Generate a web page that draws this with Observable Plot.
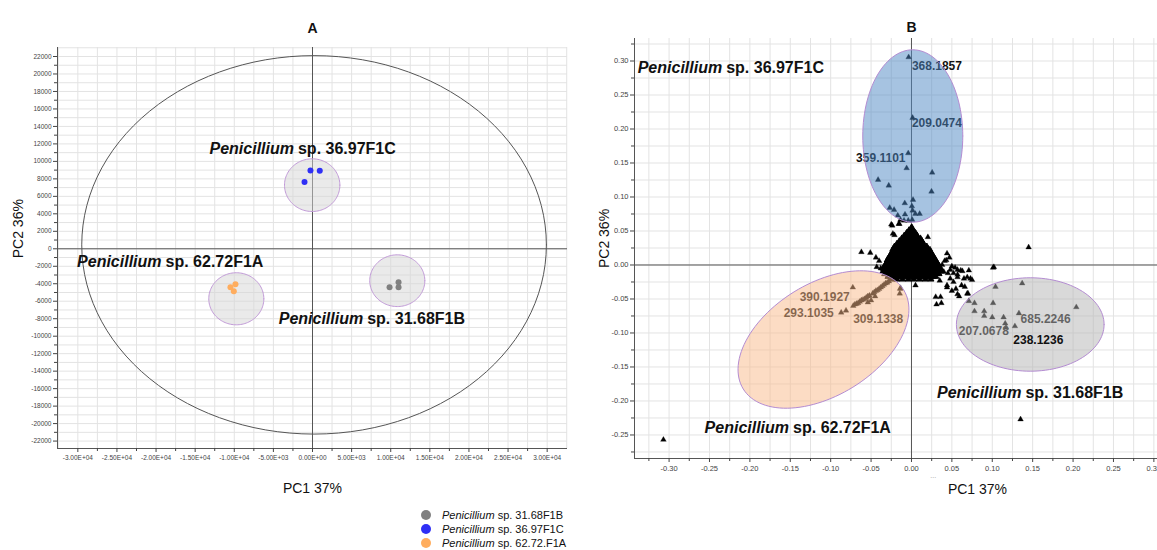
<!DOCTYPE html>
<html><head><meta charset="utf-8">
<script src="https://cdn.jsdelivr.net/npm/d3@7"></script>
<script src="https://cdn.jsdelivr.net/npm/@observablehq/plot@0.6"></script>
<style>
body{margin:0;background:#fff;font-family:"Liberation Sans",Arial,sans-serif;}
#wrap{position:relative;width:1157px;height:550px;overflow:hidden;background:#fff;}
#pa{position:absolute;left:0;top:0;width:590px;}
#pb{position:absolute;left:590px;top:0;width:580px;}
#pa svg,#pb svg{max-width:none !important;}
#legend{position:absolute;left:421px;top:508px;font-size:11px;color:#111;line-height:14px;}
#legend .row{display:flex;align-items:center;height:14px;}
#legend .sw{width:10px;height:10px;border-radius:50%;margin-right:11px;}
</style></head>
<body>
<div id="wrap"><div id="pa"></div><div id="pb"></div><div id="legend"></div></div>
<script>
// ---------- Panel A data (scores) ----------
const groups = ["31.68F1B", "36.97F1C", "62.72F1A"];
const groupColors = ["#808080", "#2f2ff5", "#ffad5e"];
const legendLabels = ["sp. 31.68F1B", "sp. 36.97F1C", "sp. 62.72.F1A"];
const scoreGroup = ["31.68F1B","31.68F1B","31.68F1B","36.97F1C","36.97F1C","36.97F1C","62.72F1A","62.72F1A","62.72F1A"];
const scoreX = [9850, 11000, 11000, -260, 930, -1020, -10490, -9850, -10060];
const scoreY = [-4390, -3820, -4390, 8960, 8920, 7630, -4390, -4050, -4850];

const aXTicks = [-30000,-25000,-20000,-15000,-10000,-5000,0,5000,10000,15000,20000,25000,30000];
const aXLabels = ["-3.00E+04","-2.50E+04","-2.00E+04","-1.50E+04","-1.00E+04","-5.00E+03","0.00E+00","5.00E+03","1.00E+04","1.50E+04","2.00E+04","2.50E+04","3.00E+04"];
const aYTicks = [-22000,-20000,-18000,-16000,-14000,-12000,-10000,-8000,-6000,-4000,-2000,0,2000,4000,6000,8000,10000,12000,14000,16000,18000,20000,22000];

// ellipses A: centre + semi-axes (data units)
const ellAId = ["big", "g31", "g36", "g62"];
const ellACx = [200, 10840, -40, -9740];
const ellACy = [450, -3650, 7280, -5720];
const ellARx = [29700, 3520, 3540, 3520];
const ellARy = [21650, 2960, 3015, 2980];

// group labels A (junction point between italic genus and the rest)
const labAx = [-2370, -19300, 6480];
const labAy = [11440, -1530, -8010];
const labAcode = ["sp. 36.97F1C", "sp. 62.72F1A", "sp. 31.68F1B"];

// ---------- Panel B data (loadings) ----------
const bXTicks = [-0.30,-0.25,-0.20,-0.15,-0.10,-0.05,0,0.05,0.10,0.15,0.20,0.25,0.30];
const bXLabels = ["-0.30","-0.25","-0.20","-0.15","-0.10","-0.05","0.00","0.05","0.10","0.15","0.20","0.25","0.30"];
const bYTicks = [-0.25,-0.20,-0.15,-0.10,-0.05,0,0.05,0.10,0.15,0.20,0.25,0.30];
const bYLabels = ["-0.25","-0.20","-0.15","-0.10","-0.05","0.00","0.05","0.10","0.15","0.20","0.25","0.30"];

const bluePts = [[-0.0035,0.3056],[0.0014,0.2165],[-0.004,0.1644],[-0.006,0.1424],[-0.0413,0.1253],[-0.0281,0.1169],[0.0256,0.136],[0.0248,0.108],[0.0019,0.0959],[-0.0083,0.0909],[-0.0269,0.0841],[-0.0215,0.0812],[-0.017,0.0728],[-0.008,0.0743],[0.0005,0.0865],[0.0014,0.0801],[0.0048,0.0753],[0.0101,0.0753],[-0.0136,0.0665],[-0.0092,0.0654],[-0.004,0.0654],[0.0009,0.0665],[-0.0238,0.058],[-0.015,0.0605]];
const orangePts = [[-0.0726,-0.033],[-0.087,-0.070],[-0.081,-0.067],[-0.0145,-0.042],[-0.0136,-0.034],[-0.054,-0.055],[-0.050,-0.052],[-0.045,-0.046],[-0.072,-0.060],[-0.070,-0.058],[-0.068,-0.057],[-0.066,-0.056],[-0.064,-0.054],[-0.062,-0.052],[-0.060,-0.051],[-0.058,-0.050],[-0.056,-0.048],[-0.054,-0.046],[-0.052,-0.045],[-0.048,-0.042],[-0.046,-0.040],[-0.044,-0.038],[-0.042,-0.037],[-0.040,-0.035],[-0.038,-0.033],[-0.036,-0.031],[-0.034,-0.029],[-0.032,-0.027],[-0.030,-0.026],[-0.028,-0.024],[-0.025,-0.021],[-0.022,-0.018]];
const grayPts = [[0.070,-0.042],[0.078,-0.056],[0.071,-0.053],[0.078,-0.068],[0.090,-0.068],[0.090,-0.075],[0.101,-0.056],[0.104,-0.032],[0.101,-0.004],[0.100,-0.077],[0.114,-0.077],[0.116,-0.086],[0.117,-0.092],[0.128,-0.090],[0.133,-0.071],[0.137,-0.027],[0.204,-0.062]];
const scatterPts = [[0.135,-0.227],[-0.307,-0.257],[0.145,0.026],[0.102,-0.003],
 [0.044,0.017],[0.043,0.007],[0.050,-0.002],[0.054,-0.004],[0.061,-0.008],[0.071,-0.008],[0.069,-0.018],[0.075,-0.022],[0.057,-0.018],[0.052,-0.025],[0.044,-0.033],[0.050,-0.038],[0.057,-0.043],[0.059,-0.046],[0.069,-0.042],[0.030,-0.047],[0.037,-0.056],[0.031,-0.058],
 [0.013,0.035],[0.023,0.023],[0.047,0.011],[0.041,0.006],[0.048,-0.007],[0.057,-0.007],[0.063,-0.009],[0.073,-0.020],[0.065,-0.020],[0.057,-0.014],[0.048,-0.020],[0.044,-0.030],[0.036,-0.047],[0.035,-0.023],[0.028,-0.015],[0.040,-0.010],[0.038,0.000],[0.045,-0.012],[0.052,-0.012],[0.062,-0.030],[0.055,-0.035],[0.066,-0.032],
 [-0.062,0.019],[-0.051,0.018],[-0.044,0.011],[-0.043,-0.003],[-0.023,0.046],[-0.040,0.006],[-0.038,-0.005],[0.005,-0.030],[-0.014,-0.035],
 [-0.021,0.044],[0.0203,0.041],[0.0136,0.0335],[-0.025,0.0596],[-0.0157,0.0605],[0.0008,0.0556]];
// dense central cluster, row by row: [y, [x...]]
const blobRows = [
 [0.055,[0.000]],
 [0.051,[-0.003,0.002]],
 [0.047,[-0.006,-0.002,0.002,0.005]],
 [0.043,[-0.009,-0.005,-0.001,0.003,0.007]],
 [0.039,[-0.012,-0.008,-0.004,0.000,0.004,0.008,0.011]],
 [0.035,[-0.015,-0.011,-0.007,-0.003,0.001,0.005,0.009,0.013]],
 [0.031,[-0.018,-0.014,-0.010,-0.006,-0.002,0.002,0.006,0.010,0.015]],
 [0.027,[-0.021,-0.017,-0.013,-0.009,-0.005,-0.001,0.003,0.007,0.011,0.015,0.019]],
 [0.023,[-0.023,-0.019,-0.015,-0.011,-0.007,-0.003,0.001,0.005,0.009,0.013,0.017,0.021]],
 [0.019,[-0.024,-0.020,-0.016,-0.012,-0.008,-0.004,0.000,0.004,0.008,0.012,0.016,0.020,0.024]],
 [0.015,[-0.026,-0.022,-0.018,-0.014,-0.010,-0.006,-0.002,0.002,0.006,0.010,0.014,0.018,0.022,0.026]],
 [0.011,[-0.028,-0.024,-0.020,-0.016,-0.012,-0.008,-0.004,0.000,0.004,0.008,0.012,0.016,0.020,0.024,0.028]],
 [0.007,[-0.030,-0.026,-0.022,-0.018,-0.014,-0.010,-0.006,-0.002,0.002,0.006,0.010,0.014,0.018,0.022,0.026,0.030]],
 [0.003,[-0.031,-0.027,-0.023,-0.019,-0.015,-0.011,-0.007,-0.003,0.001,0.005,0.009,0.013,0.017,0.021,0.025,0.029,0.032]],
 [-0.001,[-0.033,-0.029,-0.025,-0.021,-0.017,-0.013,-0.009,-0.005,-0.001,0.003,0.007,0.011,0.015,0.019,0.023,0.027,0.031,0.034]],
 [-0.005,[-0.035,-0.031,-0.027,-0.023,-0.019,-0.015,-0.011,-0.007,-0.003,0.001,0.005,0.009,0.013,0.017,0.021,0.025,0.029,0.033,0.036]],
 [-0.009,[-0.035,-0.031,-0.027,-0.023,-0.019,-0.015,-0.011,-0.007,-0.003,0.001,0.005,0.009,0.013,0.017,0.021,0.025,0.029,0.033,0.037]],
 [-0.013,[-0.033,-0.029,-0.025,-0.021,-0.017,-0.013,-0.009,-0.005,-0.001,0.003,0.007,0.011,0.015,0.019,0.023,0.027,0.031,0.034]],
 [-0.017,[-0.029,-0.025,-0.021,-0.017,-0.013,-0.009,-0.005,-0.001,0.003,0.007,0.011,0.015,0.019,0.023,0.027,0.030]],
 [-0.021,[-0.024,-0.018,-0.011,-0.004,0.003,0.010,0.017,0.024]]
];

const bNumLabels = ["368.1857","209.0474","359.1101","390.1927","293.1035","309.1338","207.0678","685.2246","238.1236"];
const bNumX = [0.0005, 0.0005, -0.0074, -0.0764, -0.0962, -0.0722, 0.0586, 0.135, 0.126];
const bNumY = [0.293, 0.2085, 0.1576, -0.0474, -0.0709, -0.0791, -0.0973, -0.079, -0.111];
const bNumAnchor = ["start","start","end","end","end","start","start","start","start"];

// ellipses B: centre + two conjugate semi-axis vectors (data units)
const ellBId = ["blue", "orange", "gray"];
const ellBFill = ["#4d87c3", "#f9b98a", "#b3b3b3"];
const ellBCx = [0.0016, -0.1089, 0.147];
const ellBCy = [0.1897, -0.1096, -0.0875];
const ellBU = [[0.0619, 0], [0.0993, 0.0728], [0.0914, 0]];
const ellBV = [[0, 0.1268], [-0.0364, 0.0701], [0, 0.0687]];

const labBx = [-0.2343, 0.1361, -0.1515];
const labBy = [0.290, -0.1885, -0.240];
const labBcode = ["sp. 36.97F1C", "sp. 31.68F1B", "sp. 62.72F1A"];

// ---------- helpers ----------
const FONT = '"Liberation Sans", Arial, sans-serif';
function outline(cx, cy, ux, uy, vx, vy) {
  return d3.range(0, 361, 3).map(a => {
    const t = a * Math.PI / 180;
    return {x: cx + ux * Math.cos(t) + vx * Math.sin(t), y: cy + uy * Math.cos(t) + vy * Math.sin(t)};
  });
}
const scores = scoreX.map((x, i) => ({x, y: scoreY[i], color: groupColors[groups.indexOf(scoreGroup[i])]}));
const labA = labAx.map((x, i) => ({x, y: labAy[i], code: labAcode[i]}));

// ---------- Panel A ----------
const ellAMarks = ellAId.map((id, i) => {
  const pts = outline(ellACx[i], ellACy[i], ellARx[i], 0, 0, ellARy[i]);
  return id === "big"
    ? Plot.line(pts, {x: "x", y: "y", stroke: "#555", strokeWidth: 1})
    : Plot.line(pts, {x: "x", y: "y", stroke: "#c29bd8", strokeWidth: 1, fill: "#d6d6d6", fillOpacity: 0.5});
});
const plotA = Plot.plot({
  width: 590, height: 505,
  marginLeft: 57, marginRight: 23, marginTop: 47, marginBottom: 57,
  style: {fontFamily: FONT, background: "transparent", overflow: "visible", maxWidth: "none"},
  x: {domain: [-32600, 32600], axis: null},
  y: {domain: [-22850, 23030], axis: null},
  color: {type: "identity"},
  marks: [
    Plot.gridX(d3.range(-32500, 32501, 2500), {stroke: "#e3e3e3", strokeOpacity: 1}),
    Plot.gridY(d3.range(-22000, 23001, 1000), {stroke: "#e3e3e3", strokeOpacity: 1}),
    Plot.ruleX([0], {stroke: "#555"}),
    Plot.ruleY([0], {stroke: "#555"}),
    Plot.ruleX([-32600], {stroke: "#555"}),
    Plot.ruleY([-22850], {stroke: "#555"}),
    Plot.axisX(aXTicks, {label: null, tickFormat: d => aXLabels[aXTicks.indexOf(d)], tickSize: 4, tickPadding: 3, fontSize: 6.5, color: "#444"}),
    Plot.axisX(d3.range(-27500, 27501, 5000), {label: null, tickFormat: () => "", tickSize: 3, color: "#444"}),
    Plot.axisY(aYTicks, {label: null, tickFormat: d => String(d), tickSize: 4, tickPadding: 2, fontSize: 6.5, color: "#444"}),
    Plot.axisY(d3.range(-21000, 21001, 2000), {label: null, tickFormat: () => "", tickSize: 3, color: "#444"}),
    ...ellAMarks,
    Plot.dot(scores, {x: "x", y: "y", fill: "color", r: 3}),
    Plot.text(labA, {x: "x", y: "y", text: () => "Penicillium", textAnchor: "end", fontStyle: "italic", fontWeight: "bold", fontSize: 16, fill: "#111"}),
    Plot.text(labA, {x: "x", y: "y", text: "code", textAnchor: "start", dx: 4, fontWeight: "bold", fontSize: 16, fill: "#111"}),
    Plot.text(["A"], {frameAnchor: "top", dy: -24, fontWeight: "bold", fontSize: 14, fill: "#111"}),
    Plot.text(["PC1 37%"], {frameAnchor: "bottom", dy: 44, fontSize: 14, fill: "#111"}),
    Plot.text(["PC2 36%"], {y: () => 2300, frameAnchor: "left", textAnchor: "middle", dx: -39, rotate: -90, fontSize: 14, fill: "#111"})
  ]
});
document.getElementById("pa").appendChild(plotA);

// ---------- Panel B ----------
const blob = [];
for (const [y, xs] of blobRows) for (const x of xs) blob.push({x, y});
const loadings = [];
for (const arr of [bluePts, orangePts, grayPts, scatterPts]) for (const [x, y] of arr) loadings.push({x, y});
const numLab = bNumLabels.map((t, i) => ({t, x: bNumX[i], y: bNumY[i], a: bNumAnchor[i]}));
const labB = labBx.map((x, i) => ({x, y: labBy[i], code: labBcode[i]}));
const ellBMarks = ellBId.map((id, i) => Plot.line(
  outline(ellBCx[i], ellBCy[i], ellBU[i][0], ellBU[i][1], ellBV[i][0], ellBV[i][1]),
  {x: "x", y: "y", stroke: "#b48cd2", strokeWidth: 1, fill: ellBFill[i], fillOpacity: 0.5}));
const numStyle = {x: "x", y: "y", text: "t", fontWeight: "bold", fontSize: 12, fill: "#111"};

const plotB = Plot.plot({
  width: 580, height: 505,
  marginLeft: 44, marginRight: 5, marginTop: 38, marginBottom: 47,
  style: {fontFamily: FONT, background: "transparent", overflow: "visible", maxWidth: "none"},
  x: {domain: [-0.3428, 0.3144], axis: null},
  y: {domain: [-0.2846, 0.3331], axis: null},
  marks: [
    Plot.gridX(d3.range(-0.325, 0.3126, 0.025), {stroke: "#e3e3e3", strokeOpacity: 1}),
    Plot.gridY(d3.range(-0.275, 0.3251, 0.025), {stroke: "#e3e3e3", strokeOpacity: 1}),
    Plot.ruleX([0], {stroke: "#555"}),
    Plot.ruleY([0], {stroke: "#555"}),
    Plot.ruleX([-0.3428], {stroke: "#555"}),
    Plot.ruleY([-0.2846], {stroke: "#555"}),
    Plot.axisX(bXTicks, {label: null, tickFormat: d => bXLabels[bXTicks.indexOf(d)], tickSize: 4, tickPadding: 3, fontSize: 7.5, color: "#444"}),
    Plot.axisX(d3.range(-0.325, 0.30, 0.05), {label: null, tickFormat: () => "", tickSize: 3, color: "#444"}),
    Plot.axisY(bYTicks, {label: null, tickFormat: d => bYLabels[bYTicks.indexOf(d)], tickSize: 4, tickPadding: 2, fontSize: 7.5, color: "#444"}),
    Plot.axisY(d3.range(-0.275, 0.33, 0.05), {label: null, tickFormat: () => "", tickSize: 3, color: "#444"}),
    Plot.dot(blob, {x: "x", y: "y", symbol: "triangle", fill: "#000", stroke: "#000", strokeWidth: 1, r: 2.3}),
    Plot.dot(loadings, {x: "x", y: "y", symbol: "triangle", fill: "#000", stroke: "#000", strokeWidth: 0.3, r: 2.1}),
    Plot.text(numLab.filter(d => d.t !== "238.1236" && d.a === "start"), {...numStyle, textAnchor: "start"}),
    Plot.text(numLab.filter(d => d.a === "end"), {...numStyle, textAnchor: "end"}),
    ...ellBMarks,
    Plot.text(numLab.filter(d => d.t === "238.1236"), {...numStyle, textAnchor: "start"}),
    Plot.text(labB, {x: "x", y: "y", text: () => "Penicillium", textAnchor: "end", fontStyle: "italic", fontWeight: "bold", fontSize: 16, fill: "#111"}),
    Plot.text(labB, {x: "x", y: "y", text: "code", textAnchor: "start", dx: 4, fontWeight: "bold", fontSize: 16, fill: "#111"}),
    Plot.text(["B"], {x: () => 0, frameAnchor: "top", dy: -16, fontWeight: "bold", fontSize: 14, fill: "#111"}),
    Plot.text(["..."], {x: () => 0.027, frameAnchor: "bottom", dy: 19, fontSize: 7, fill: "#999"}),
    Plot.text(["PC1 37%"], {x: () => 0.0817, frameAnchor: "bottom", dy: 35, fontSize: 14, fill: "#111"}),
    Plot.text(["PC2 36%"], {y: () => 0.039, frameAnchor: "left", textAnchor: "middle", dx: -30, rotate: -90, fontSize: 14, fill: "#111"})
  ]
});
document.getElementById("pb").appendChild(plotB);

// ---------- Legend ----------
const leg = document.getElementById("legend");
groups.forEach((g, i) => {
  const row = document.createElement("div");
  row.className = "row";
  row.innerHTML = `<span class="sw" style="background:${groupColors[i]}"></span><span><i>Penicillium</i> ${legendLabels[i]}</span>`;
  leg.appendChild(row);
});
</script>
</body></html>
